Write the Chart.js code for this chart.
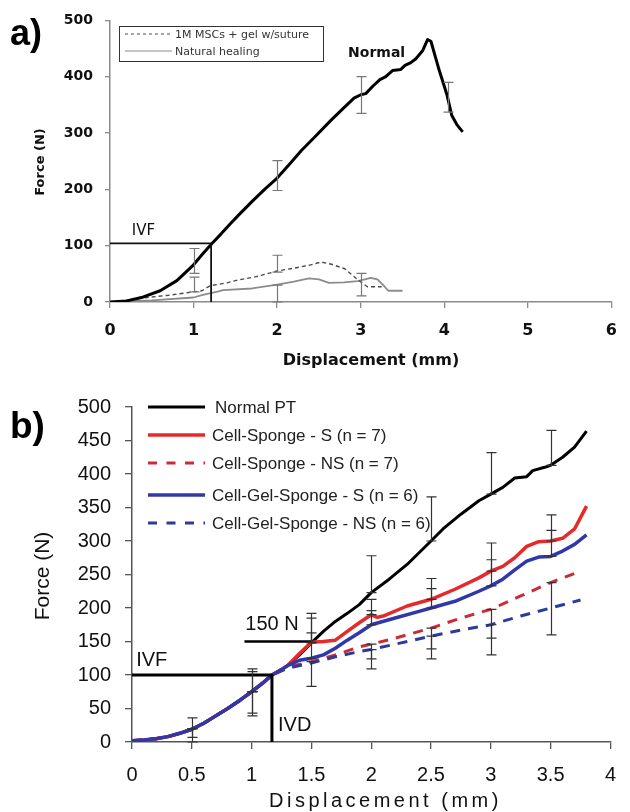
<!DOCTYPE html>
<html>
<head>
<meta charset="utf-8">
<title>Force vs displacement</title>
<script src="https://cdn.jsdelivr.net/npm/chart.js@4.4.1/dist/chart.umd.min.js"></script>
<style>
  html, body { margin: 0; padding: 0; background: #fff; }
  body { width: 630px; height: 812px; position: relative; overflow: hidden; }
  .panel { position: absolute; left: 0; }
  #wrapA { top: 0; }
  #wrapB { top: 370px; }
</style>
</head>
<body>
<div id="wrapA" class="panel"><canvas id="chartA" width="630" height="370"></canvas></div>
<div id="wrapB" class="panel"><canvas id="chartB" width="630" height="442"></canvas></div>

<script>
// ---------- panel a) data ----------
const xTicksA = [0, 1, 2, 3, 4, 5, 6];
const yTicksA = [0, 100, 200, 300, 400, 500];

const normalAx = [0, 0.2, 0.4, 0.6, 0.8, 1.0, 1.1, 1.22, 1.33, 1.44, 1.55, 1.71, 1.85, 2.0, 2.15, 2.29, 2.45, 2.64, 2.8, 2.92, 3.0, 3.06, 3.15, 3.23, 3.3, 3.38, 3.48, 3.53, 3.6, 3.66, 3.74, 3.8, 3.84, 3.93, 4.03, 4.09, 4.15, 4.22];
const normalAy = [0, 2, 9, 20, 38, 66, 84, 104, 121, 139, 156, 180, 200, 220, 245, 269, 293, 322, 345, 362, 368, 370, 384, 395, 400, 411, 413, 420, 425, 432, 446, 466, 463, 416, 369, 331, 315, 302];

const mscAx = [0, 0.2, 0.45, 0.7, 1.0, 1.1, 1.2, 1.4, 1.5, 1.75, 2.0, 2.2, 2.4, 2.53, 2.65, 2.81, 2.96, 3.08, 3.25];
const mscAy = [0, 3, 8, 12, 18, 20, 29, 34, 38, 45, 55, 60, 66, 71, 67, 59, 40, 27, 27];

const healAx = [0, 0.5, 1.0, 1.1, 1.15, 1.3, 1.35, 1.7, 2.0, 2.2, 2.38, 2.5, 2.62, 2.8, 2.96, 3.05, 3.12, 3.2, 3.27, 3.33, 3.5];
const healAy = [0, 3, 8, 12, 14, 19, 21, 24, 31, 36, 42, 40, 34, 35, 37, 40, 43, 40, 30, 20, 20];

const normalErrXA = [1, 2, 3, 4.04];
const normalErrLoA = [51, 198, 335, 337];
const normalErrHiA = [95, 251, 400, 390];
const mscErrXA = [1, 2, 3];
const mscErrLoA = [18, 53, 11];
const mscErrHiA = [44, 83, 51];
const healErrXA = [2];
const healErrLoA = [0];
const healErrHiA = [30];

const ivfAx = [0, 1.21, 1.21];
const ivfAy = [104, 104, 0];

const labelsA = ['1M MSCs + gel w/suture', 'Natural healing'];

// ---------- panel b) data ----------
const xTicksB = [0, 0.5, 1, 1.5, 2, 2.5, 3, 3.5, 4];
const yTicksB = [0, 50, 100, 150, 200, 250, 300, 350, 400, 450, 500];

const normalBx = [0, 0.1, 0.2, 0.3, 0.4, 0.5, 0.6, 0.7, 0.8, 0.9, 1.0, 1.1, 1.17, 1.25, 1.3, 1.4, 1.5, 1.6, 1.7, 1.8, 1.9, 2.0, 2.15, 2.3, 2.5, 2.6, 2.75, 2.9, 3.0, 3.1, 3.2, 3.3, 3.35, 3.45, 3.5, 3.6, 3.7, 3.8];
const normalBy = [2, 3, 5, 8, 13, 19, 28, 39, 50, 62, 75, 89, 100, 108, 114, 130, 148, 165, 180, 192, 205, 223, 243, 265, 300, 318, 340, 360, 370, 380, 394, 396, 405, 410, 413, 425, 440, 464];

const spongeSx = [0, 0.1, 0.2, 0.3, 0.4, 0.5, 0.6, 0.7, 0.8, 0.9, 1.0, 1.1, 1.17, 1.25, 1.3, 1.4, 1.5, 1.6, 1.7, 1.8, 1.9, 2.0, 2.05, 2.1, 2.3, 2.5, 2.7, 2.9, 3.0, 3.1, 3.2, 3.3, 3.4, 3.5, 3.6, 3.7, 3.8];
const spongeSy = [2, 3, 5, 8, 13, 19, 28, 39, 50, 62, 75, 89, 100, 108, 114, 132, 149, 150, 152, 165, 178, 190, 186, 188, 203, 213, 228, 245, 255, 262, 275, 292, 299, 300, 304, 318, 352];

const spongeNSx = [0, 0.1, 0.2, 0.3, 0.4, 0.5, 0.6, 0.7, 0.8, 0.9, 1.0, 1.1, 1.17, 1.25, 1.3, 1.5, 1.7, 1.9, 2.0, 2.2, 2.5, 2.75, 3.0, 3.25, 3.5, 3.75];
const spongeNSy = [2, 3, 5, 8, 13, 19, 28, 39, 50, 62, 75, 89, 100, 107, 112, 120, 130, 142, 146, 155, 170, 185, 198, 218, 238, 255];

const gelSx = [0, 0.1, 0.2, 0.3, 0.4, 0.5, 0.6, 0.7, 0.8, 0.9, 1.0, 1.1, 1.17, 1.25, 1.3, 1.4, 1.5, 1.6, 1.7, 1.8, 1.9, 2.0, 2.2, 2.4, 2.5, 2.7, 2.9, 3.0, 3.1, 3.2, 3.3, 3.4, 3.5, 3.6, 3.7, 3.8];
const gelSy = [2, 3, 5, 8, 13, 19, 28, 39, 50, 62, 75, 89, 100, 108, 114, 122, 125, 130, 140, 152, 163, 175, 185, 195, 200, 210, 225, 233, 243, 257, 270, 276, 277, 285, 295, 309];

const gelNSx = [0, 0.1, 0.2, 0.3, 0.4, 0.5, 0.6, 0.7, 0.8, 0.9, 1.0, 1.1, 1.17, 1.25, 1.3, 1.5, 1.7, 1.9, 2.0, 2.25, 2.5, 2.75, 3.0, 3.25, 3.5, 3.75];
const gelNSy = [2, 3, 5, 8, 13, 19, 28, 39, 50, 62, 75, 89, 100, 106, 110, 118, 127, 135, 138, 148, 158, 167, 175, 188, 200, 212];

const errXB = [0.5, 1, 1.5, 2, 2.5, 3, 3.5];
const normalErrLoB = [20, 75, 148, 223, 300, 370, 413];
const normalErrHiB = [36, 109, 192, 278, 366, 432, 465];
const spongeSErrLoB = [null, 75, 149, 190, 213, 255, 300];
const spongeSErrHiB = [null, 105, 185, 213, 244, 297, 339];
const gelSErrLoB = [null, null, 125, 175, 200, 233, 277];
const gelSErrHiB = [null, null, 163, 196, 229, 272, 316];
const spongeNSErrLoB = [7, 43, 83, 124, 139, 155, 160];
const spongeNSErrHiB = [20, 75, 120, 146, 170, 198, 238];
const gelNSErrLoB = [0, 39, null, 109, 124, 130, null];
const gelNSErrHiB = [20, 75, null, 138, 158, 175, null];

const ivfBx = [0, 1.17, 1.17];
const ivfBy = [100, 100, 0];
const n150Bx = [0.94, 1.51];
const n150By = [150, 150];

const labelsB = ['Normal PT', 'Cell-Sponge - S (n = 7)', 'Cell-Sponge - NS (n = 7)', 'Cell-Gel-Sponge - S (n = 6)', 'Cell-Gel-Sponge - NS (n = 6)'];

// ---------- helpers ----------
const DEJA = "'DejaVu Sans', Verdana, sans-serif";
const LIB = "'Liberation Sans', Arial, sans-serif";

function pts(xs, ys) {
  return xs.map((x, i) => ({ x: x, y: ys[i] }));
}

function line(label, xs, ys, color, width, dash, order) {
  return {
    label: label,
    data: pts(xs, ys),
    showLine: true,
    borderColor: color,
    backgroundColor: color,
    borderWidth: width,
    borderDash: dash || [],
    pointRadius: 0,
    borderJoinStyle: 'round',
    order: order
  };
}

// draws error bars, in-plot labels, axis titles and the inset legend
function makeOverlay(cfg) {
  return {
    id: 'overlay',
    afterDatasetsDraw(chart) {
      const ctx = chart.ctx;
      const xs = chart.scales.x, ys = chart.scales.y;
      ctx.save();
      cfg.bars.forEach(b => {
        ctx.strokeStyle = cfg.barColor;
        ctx.lineWidth = 1.2;
        b.x.forEach((xv, i) => {
          if (b.lo[i] == null || b.hi[i] == null) return;
          const px = Math.round(xs.getPixelForValue(xv)) + 0.5;
          const p1 = ys.getPixelForValue(b.lo[i]);
          const p2 = ys.getPixelForValue(b.hi[i]);
          ctx.beginPath();
          ctx.moveTo(px, p1); ctx.lineTo(px, p2);
          ctx.moveTo(px - cfg.cap, p1); ctx.lineTo(px + cfg.cap, p1);
          ctx.moveTo(px - cfg.cap, p2); ctx.lineTo(px + cfg.cap, p2);
          ctx.stroke();
        });
      });
      cfg.notes.forEach(n => {
        ctx.font = n.font;
        ctx.fillStyle = '#111';
        ctx.textAlign = 'center';
        ctx.textBaseline = 'middle';
        ctx.fillText(n.text, xs.getPixelForValue(n.x), ys.getPixelForValue(n.y));
      });
      ctx.restore();
    },
    afterDraw(chart) {
      const ctx = chart.ctx;
      ctx.save();
      // panel tag
      ctx.fillStyle = '#000';
      ctx.font = cfg.tag.font;
      ctx.textAlign = 'left';
      ctx.textBaseline = 'alphabetic';
      ctx.fillText(cfg.tag.text, cfg.tag.x, cfg.tag.y);
      // x title
      ctx.font = cfg.xTitle.font;
      ctx.fillStyle = '#111';
      if (cfg.xTitle.spacing) ctx.letterSpacing = cfg.xTitle.spacing;
      ctx.textAlign = cfg.xTitle.align;
      ctx.fillText(cfg.xTitle.text, cfg.xTitle.x, cfg.xTitle.y);
      ctx.letterSpacing = '0px';
      // y title
      ctx.save();
      ctx.translate(cfg.yTitle.x, cfg.yTitle.y);
      ctx.rotate(-Math.PI / 2);
      ctx.font = cfg.yTitle.font;
      ctx.textAlign = 'center';
      ctx.textBaseline = 'middle';
      ctx.fillText(cfg.yTitle.text, 0, 0);
      ctx.restore();
      // legend
      const lg = cfg.legend;
      if (lg.box) {
        ctx.strokeStyle = '#333';
        ctx.lineWidth = 1;
        ctx.strokeRect(lg.box[0] + 0.5, lg.box[1] + 0.5, lg.box[2], lg.box[3]);
      }
      lg.items.forEach((it, i) => {
        const ds = chart.data.datasets[it.ds];
        const y = lg.rows[i];
        ctx.beginPath();
        ctx.strokeStyle = ds.borderColor;
        ctx.lineWidth = lg.lineWidth || ds.borderWidth;
        ctx.setLineDash(it.dash || []);
        ctx.lineCap = 'butt';
        ctx.moveTo(lg.x0, y);
        ctx.lineTo(it.x1 || lg.x1, y);
        ctx.stroke();
        ctx.setLineDash([]);
        ctx.font = lg.font;
        ctx.fillStyle = lg.color;
        ctx.textAlign = 'left';
        ctx.textBaseline = 'middle';
        ctx.fillText(ds.label, it.tx || lg.tx, y + 1);
      });
      ctx.restore();
    }
  };
}

function axisOpts(min, max, ticks, color, font, tickLen, pad, fit) {
  return {
    type: 'linear',
    min: min,
    max: max,
    afterBuildTicks: (s) => { s.ticks = ticks.map(v => ({ value: v })); },
    grid: { display: true, drawOnChartArea: false, drawTicks: true, tickLength: tickLen, color: color, lineWidth: 1.3 },
    border: { display: true, color: color, width: 1.5 },
    ticks: { color: '#111', font: font, padding: pad, maxRotation: 0, autoSkip: false, callback: (v) => String(v) },
    afterFit: fit
  };
}

// ---------- chart a) ----------
new Chart(document.getElementById('chartA'), {
  type: 'scatter',
  data: {
    datasets: [
      line(labelsA[0], mscAx, mscAy, '#4a4a4a', 1.4, [4, 3], 2),
      line(labelsA[1], healAx, healAy, '#8c8c8c', 1.8, [], 3),
      line('Normal', normalAx, normalAy, '#000', 3, [], 1),
      line('IVF', ivfAx, ivfAy, '#111', 1.8, [], 0)
    ]
  },
  options: {
    responsive: false,
    animation: false,
    devicePixelRatio: 1,
    layout: { padding: { left: 0, right: 9, top: 19, bottom: 0 } },
    plugins: { legend: { display: false }, tooltip: { enabled: false } },
    scales: {
      x: axisOpts(0, 6, xTicksA, '#8a8a8a', { family: DEJA, size: 16, weight: 'bold' }, 6, 13, s => { s.height = 68; }),
      y: axisOpts(0, 500, yTicksA, '#8a8a8a', { family: DEJA, size: 14, weight: 'bold' }, 5, 12, s => { s.width = 110; })
    }
  },
  plugins: [makeOverlay({
    barColor: '#777',
    cap: 5,
    bars: [
      { x: normalErrXA, lo: normalErrLoA, hi: normalErrHiA },
      { x: mscErrXA, lo: mscErrLoA, hi: mscErrHiA },
      { x: healErrXA, lo: healErrLoA, hi: healErrHiA }
    ],
    notes: [
      { text: 'IVF', x: 0.4, y: 126, font: '15px ' + DEJA },
      { text: 'Normal', x: 3.19, y: 442, font: 'bold 14px ' + DEJA }
    ],
    tag: { text: 'a)', x: 10, y: 45, font: 'bold 36px ' + LIB },
    xTitle: { text: 'Displacement (mm)', x: 371, y: 365, align: 'center', font: 'bold 16px ' + DEJA },
    yTitle: { text: 'Force (N)', x: 41, y: 162, font: 'bold 13px ' + DEJA },
    legend: {
      box: [119, 26, 204, 35],
      x0: 125, x1: 172, tx: 175,
      rows: [34, 51],
      lineWidth: 1,
      font: '11px ' + DEJA,
      color: '#333',
      items: [{ ds: 0, dash: [3, 3] }, { ds: 1 }]
    }
  })]
});

// ---------- chart b) ----------
const red = '#e52a2a', blue = '#3037a8', redDash = '#cc2b35', blueDash = '#2c3a9c';

new Chart(document.getElementById('chartB'), {
  type: 'scatter',
  data: {
    datasets: [
      line(labelsB[0], normalBx, normalBy, '#000', 3, [], 5),
      line(labelsB[1], spongeSx, spongeSy, red, 3.5, [], 2),
      line(labelsB[2], spongeNSx, spongeNSy, redDash, 3, [10, 8], 4),
      line(labelsB[3], gelSx, gelSy, blue, 3.5, [], 1),
      line(labelsB[4], gelNSx, gelNSy, blueDash, 3, [10, 8], 3),
      line('IVF', ivfBx, ivfBy, '#000', 3, [], 0),
      line('150 N', n150Bx, n150By, '#000', 2.5, [], 0)
    ]
  },
  options: {
    responsive: false,
    animation: false,
    devicePixelRatio: 1,
    layout: { padding: { left: 0, right: 6, top: 37, bottom: 0 } },
    plugins: { legend: { display: false }, tooltip: { enabled: false } },
    scales: {
      x: axisOpts(0, 4, xTicksB, '#555', { family: LIB, size: 20 }, 7, 14, s => { s.height = 70; }),
      y: axisOpts(0, 500, yTicksB, '#555', { family: LIB, size: 20 }, 7, 14, s => { s.width = 132; })
    }
  },
  plugins: [makeOverlay({
    barColor: '#333',
    cap: 5,
    bars: [
      { x: errXB, lo: normalErrLoB, hi: normalErrHiB },
      { x: errXB, lo: spongeSErrLoB, hi: spongeSErrHiB },
      { x: errXB, lo: gelSErrLoB, hi: gelSErrHiB },
      { x: errXB, lo: spongeNSErrLoB, hi: spongeNSErrHiB },
      { x: errXB, lo: gelNSErrLoB, hi: gelNSErrHiB }
    ],
    notes: [
      { text: 'IVF', x: 0.165, y: 122, font: '20px ' + LIB },
      { text: 'IVD', x: 1.36, y: 24, font: '20px ' + LIB },
      { text: '150 N', x: 1.17, y: 175, font: '20px ' + LIB }
    ],
    tag: { text: 'b)', x: 10, y: 68, font: 'bold 37px ' + LIB },
    xTitle: { text: 'Displacement (mm)', x: 269, y: 437, align: 'left', spacing: '3.5px', font: '20px ' + LIB },
    yTitle: { text: 'Force (N)', x: 43, y: 206, font: '21px ' + LIB },
    legend: {
      x0: 148, x1: 205, tx: 212,
      rows: [37, 65, 93, 125, 153],
      font: '17px ' + LIB,
      color: '#222',
      items: [
        { ds: 0, tx: 215 },
        { ds: 1 },
        { ds: 2, dash: [9, 9.5], x1: 205 },
        { ds: 3 },
        { ds: 4, dash: [9, 9.5], x1: 205 }
      ]
    }
  })]
});
</script>
</body>
</html>
